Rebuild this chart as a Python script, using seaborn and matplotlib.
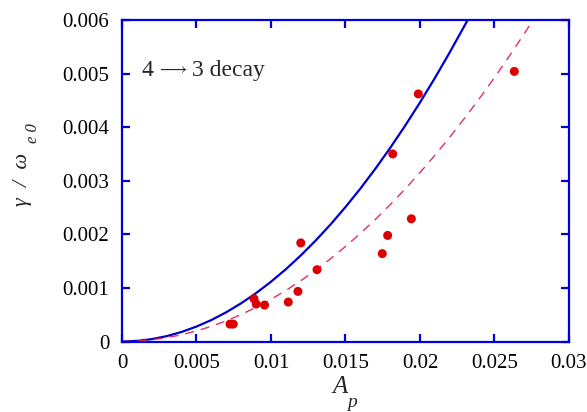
import numpy as np
import pandas as pd
import matplotlib
matplotlib.use("Agg")
import matplotlib.pyplot as plt
import seaborn as sns

# Measured points
A_p = [0.00725, 0.00747, 0.00886, 0.00901, 0.00957, 0.01116, 0.01181, 0.01200,
       0.01309, 0.01747, 0.01783, 0.01817, 0.01942, 0.01989, 0.02633]
gamma = [0.000325, 0.000325, 0.000798, 0.000699, 0.000680, 0.000736, 0.000935, 0.00184,
         0.00134, 0.00164, 0.00198, 0.00350, 0.00229, 0.00462, 0.00504]

# Solid (theory) curve
solid_x = [0.0, 0.001, 0.002, 0.003, 0.004, 0.005, 0.006, 0.007, 0.008, 0.009, 0.010,
           0.011, 0.012, 0.013, 0.014, 0.015, 0.016, 0.017, 0.018, 0.019, 0.020,
           0.021, 0.022, 0.023, 0.024]
solid_y = [0.0, 0.0000112, 0.0000446, 0.000100, 0.000178, 0.000279, 0.000401, 0.000546,
           0.000714, 0.000903, 0.001115, 0.001349, 0.001606, 0.001884, 0.002185, 0.002509,
           0.002854, 0.003222, 0.003613, 0.004025, 0.004460, 0.004917, 0.005397, 0.005898,
           0.006422]

# Dashed (fit) curve
dash_x = [0.0, 0.001, 0.002, 0.003, 0.004, 0.005, 0.006, 0.007, 0.008, 0.009, 0.010,
          0.011, 0.012, 0.013, 0.014, 0.015, 0.016, 0.017, 0.018, 0.019, 0.020,
          0.021, 0.022, 0.023, 0.024, 0.025, 0.026, 0.027, 0.028]
dash_y = [0.0, 0.0000079, 0.0000315, 0.0000709, 0.000126, 0.000197, 0.000284, 0.000386,
          0.000504, 0.000638, 0.000788, 0.000953, 0.001135, 0.001332, 0.001544, 0.001773,
          0.002017, 0.002277, 0.002553, 0.002845, 0.003152, 0.003475, 0.003814, 0.004169,
          0.004539, 0.004925, 0.005327, 0.005745, 0.006178]

xticks = [0, 0.005, 0.01, 0.015, 0.02, 0.025, 0.03]
xticklabels = ["0", "0.005", "0.01", "0.015", "0.02", "0.025", "0.03"]
yticks = [0, 0.001, 0.002, 0.003, 0.004, 0.005, 0.006]
yticklabels = ["0", "0.001", "0.002", "0.003", "0.004", "0.005", "0.006"]

sns.set_style("ticks")
plt.rcParams["font.family"] = ["Liberation Serif", "DejaVu Serif"]
plt.rcParams["mathtext.fontset"] = "stix"

axis_color = "#0000dd"
W, H = 587, 412

def fx(px):
    return px / W

def fy(py):
    return 1 - py / H

fig = plt.figure(figsize=(W / 100, H / 100), dpi=100)
ax = fig.add_axes([0.2078, 0.1711, 0.7615, 0.7804])

sns.lineplot(x=solid_x, y=solid_y, ax=ax, color="#0000cc", linewidth=1.6,
             sort=False, estimator=None)
sns.lineplot(x=dash_x, y=dash_y, ax=ax, color="#e0306a", linewidth=1.0,
             sort=False, estimator=None)
ax.lines[-1].set_dashes([6.5, 5])
sns.scatterplot(x=A_p, y=gamma, ax=ax, color="#dd0000", s=42, edgecolor="none",
                zorder=5)

ax.set_xlim(0, 0.03)
ax.set_ylim(0, 0.006)
ax.set_xticks(xticks)
ax.set_xticklabels(xticklabels)
ax.set_yticks(yticks)
ax.set_yticklabels(yticklabels)
ax.set_xlabel("")
ax.set_ylabel("")

for s in ax.spines.values():
    s.set_visible(True)
    s.set_color(axis_color)
    s.set_linewidth(1.6)

ax.tick_params(axis="both", which="major", direction="in", length=6, width=1.6,
               color=axis_color, labelsize=15, labelcolor="black",
               top=True, right=True)
ax.tick_params(axis="y", pad=9)
ax.tick_params(axis="x", pad=9)

# x label: A with low subscript p
fig.text(fx(332), fy(393), "A", fontsize=18, fontstyle="italic",
         ha="left", va="baseline")
fig.text(fx(347), fy(407), "p", fontsize=14, fontstyle="italic",
         ha="left", va="baseline")

# y label: gamma / omega with low subscript e 0
fig.text(fx(26.5), fy(206), "\u03b3  /  \u03c9", fontsize=16, fontstyle="italic",
         rotation=90, rotation_mode="anchor", ha="left", va="baseline")
fig.text(fx(37), fy(143), "e 0", fontsize=12, fontstyle="italic",
         rotation=90, rotation_mode="anchor", ha="left", va="baseline")

# annotation "4 -> 3 decay"
fig.text(fx(142), fy(76), "4", fontsize=17, ha="left", va="baseline")
fig.text(fx(172), fy(73), r"$\longrightarrow$", fontsize=12.5, ha="center",
         va="baseline")
fig.text(fx(192), fy(76), "3 decay", fontsize=17, ha="left", va="baseline")

fig.savefig("out.png", dpi=100)
